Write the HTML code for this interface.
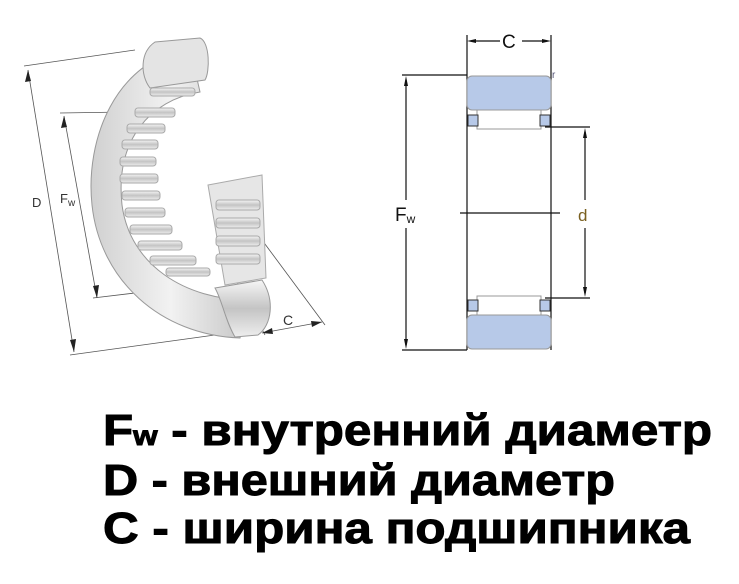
<!DOCTYPE html>
<html><head><meta charset="utf-8"><style>
html,body{margin:0;padding:0;background:#fff;}
svg{display:block;}
</style></head><body>
<svg width="739" height="584" viewBox="0 0 739 584" xmlns="http://www.w3.org/2000/svg" font-family="Liberation Sans, sans-serif">
<defs>
<linearGradient id="rg" x1="0" y1="0" x2="1" y2="0">
<stop offset="0" stop-color="#d0d0d0"/><stop offset="0.5" stop-color="#f2f2f2"/><stop offset="1" stop-color="#c4c4c4"/>
</linearGradient>
<linearGradient id="rl" x1="0" y1="0" x2="0" y2="1">
<stop offset="0" stop-color="#f6f6f6"/><stop offset="0.5" stop-color="#c4c4c4"/><stop offset="1" stop-color="#eeeeee"/>
</linearGradient>
</defs>
<!-- LEFT DRAWING -->
<g stroke="#555" stroke-width="0.8" fill="none">
<line x1="24" y1="66" x2="135" y2="50"/>
<line x1="28" y1="70" x2="74" y2="352"/>
<line x1="70" y1="355" x2="215" y2="335"/>
<line x1="60" y1="113" x2="125" y2="112"/>
<line x1="64" y1="116" x2="97" y2="298"/>
<line x1="93" y1="298" x2="160" y2="290"/>
<line x1="235" y1="278" x2="265" y2="335"/>
<line x1="262" y1="240" x2="325" y2="325"/>
<line x1="262" y1="333" x2="322" y2="322"/>
</g>
<g fill="#222">
<polygon points="28,70 25,82 31,81"/><polygon points="74,352 70,340 76,339"/>
<polygon points="64,116 61,128 67,127"/><polygon points="97,298 93,286 99,285"/>
<polygon points="262,333 272,328 273,334"/><polygon points="322,322 311,321 312,327"/>
</g>
<text x="32" y="207" font-size="13" fill="#333">D</text>
<text x="60" y="203" font-size="13" fill="#333">F<tspan font-size="10" dy="3">w</tspan></text>
<text x="283" y="325" font-size="14" fill="#333">C</text>
<!-- ring -->
<path d="M190,48 C115,60 85,140 92,205 C100,280 160,335 240,338 L250,300 C185,300 130,265 122,205 C115,140 150,100 200,92 Z" fill="url(#rg)" stroke="#999" stroke-width="1"/>
<path d="M155,42 L200,38 C210,42 210,72 205,80 L150,88 C140,75 140,52 155,42Z" fill="#e4e4e4" stroke="#999"/>
<path d="M208,185 L262,175 L266,278 L225,285 Z" fill="#e6e6e6" stroke="#aaa"/>
<path d="M215,288 L262,280 C275,300 272,325 258,335 L235,337 C225,320 222,300 215,288Z" fill="url(#rl)" stroke="#999"/>
<g stroke="#aaa" stroke-width="1">
<rect x="150" y="88" width="45" height="8" rx="3" fill="url(#rl)"/>
<rect x="135" y="108" width="40" height="9" rx="3" fill="url(#rl)"/>
<rect x="127" y="124" width="38" height="9" rx="3" fill="url(#rl)"/>
<rect x="122" y="140" width="36" height="9" rx="3" fill="url(#rl)"/>
<rect x="120" y="157" width="36" height="9" rx="3" fill="url(#rl)"/>
<rect x="120" y="174" width="38" height="9" rx="3" fill="url(#rl)"/>
<rect x="122" y="191" width="38" height="9" rx="3" fill="url(#rl)"/>
<rect x="125" y="208" width="40" height="9" rx="3" fill="url(#rl)"/>
<rect x="130" y="225" width="42" height="9" rx="3" fill="url(#rl)"/>
<rect x="138" y="241" width="44" height="9" rx="3" fill="url(#rl)"/>
<rect x="150" y="256" width="46" height="9" rx="3" fill="url(#rl)"/>
<rect x="166" y="268" width="44" height="8" rx="3" fill="url(#rl)"/>
<rect x="216" y="200" width="44" height="10" rx="3" fill="url(#rl)"/>
<rect x="216" y="218" width="44" height="10" rx="3" fill="url(#rl)"/>
<rect x="216" y="236" width="44" height="10" rx="3" fill="url(#rl)"/>
<rect x="216" y="254" width="44" height="10" rx="3" fill="url(#rl)"/>
</g>
<!-- RIGHT DRAWING -->
<g stroke="#111" stroke-width="1.2" fill="none">
<line x1="467" y1="35" x2="467" y2="350"/>
<line x1="551" y1="35" x2="551" y2="350"/>
<line x1="471" y1="41" x2="500" y2="41"/><line x1="522" y1="41" x2="547" y2="41"/>
<line x1="402" y1="75" x2="467" y2="75"/>
<line x1="402" y1="350" x2="467" y2="350"/>
<line x1="406" y1="80" x2="406" y2="200"/><line x1="406" y1="228" x2="406" y2="345"/>
<line x1="545" y1="127" x2="590" y2="127"/>
<line x1="545" y1="298" x2="590" y2="298"/>
<line x1="585" y1="132" x2="585" y2="200"/><line x1="585" y1="228" x2="585" y2="293"/>
<line x1="460" y1="213" x2="560" y2="213"/>
</g>
<g fill="#111">
<polygon points="467,41 476,39 476,43"/><polygon points="551,41 542,39 542,43"/>
<polygon points="406,76 404,86 408,86"/><polygon points="406,349 404,339 408,339"/>
<polygon points="585,128 583,138 587,138"/><polygon points="585,297 583,287 587,287"/>
</g>
<rect x="467" y="76" width="84" height="34" rx="5" fill="#b7c9e8" stroke="#999"/>
<rect x="467" y="315" width="84" height="34" rx="5" fill="#b7c9e8" stroke="#999"/>
<rect x="477" y="110" width="64" height="19" fill="#fff" stroke="#999"/>
<rect x="477" y="296" width="64" height="19" fill="#fff" stroke="#999"/>
<rect x="468" y="115" width="10" height="11" fill="#b7c9e8" stroke="#333"/>
<rect x="540" y="115" width="10" height="11" fill="#b7c9e8" stroke="#333"/>
<rect x="468" y="300" width="10" height="11" fill="#b7c9e8" stroke="#333"/>
<rect x="540" y="300" width="10" height="11" fill="#b7c9e8" stroke="#333"/>
<text x="502" y="48" font-size="19" fill="#111">C</text>
<text x="552" y="78" font-size="10" fill="#557">r</text>
<text x="395" y="221" font-size="19" fill="#111">F<tspan font-size="12" dy="2">w</tspan></text>
<text x="578" y="221" font-size="17" fill="#7a6020">d</text>
<!-- TEXT -->
<g font-weight="bold" fill="#000" stroke="#000" stroke-width="1">
<text x="103" y="445" font-size="44" textLength="609" lengthAdjust="spacingAndGlyphs">F<tspan font-size="28">w</tspan> - внутренний диаметр</text>
<text x="103" y="495" font-size="44" textLength="512" lengthAdjust="spacingAndGlyphs">D - внешний диаметр</text>
<text x="103" y="543" font-size="44" textLength="587" lengthAdjust="spacingAndGlyphs">C - ширина подшипника</text>
</g>
</svg>
</body></html>
